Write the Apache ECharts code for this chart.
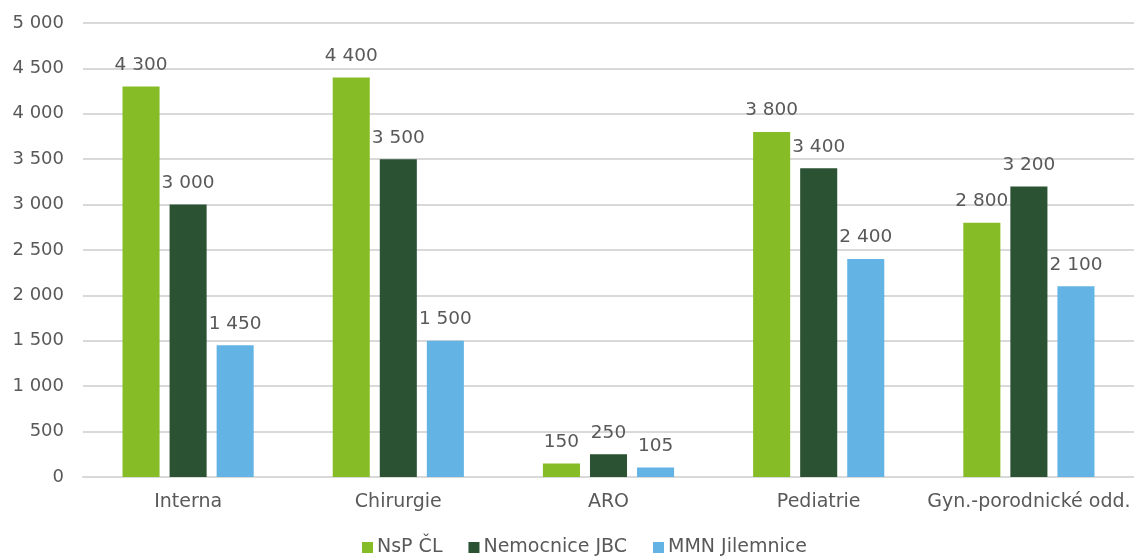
<!DOCTYPE html>
<html>
<head>
<meta charset="utf-8">
<style>
  html, body { margin: 0; padding: 0; background: #fff; }
  #chart { width: 1134px; height: 557px; }
</style>
<script src="https://cdn.jsdelivr.net/npm/echarts@6/dist/echarts.min.js"></script>
</head>
<body>
<div id="chart"></div>
<script>
// Hospital departments and values per hospital
const categories = ['Interna', 'Chirurgie', 'ARO', 'Pediatrie', 'Gyn.-porodnické odd.'];
const seriesNames = ['NsP ČL', 'Nemocnice JBC', 'MMN Jilemnice'];
const nspCL = [4300, 4400, 150, 3800, 2800];
const nemocniceJBC = [3000, 3500, 250, 3400, 3200];
const mmnJilemnice = [1450, 1500, 105, 2400, 2100];
const colors = ['#86BC25', '#2A5233', '#63B4E4'];

const FONT = '"DejaVu Sans", Verdana, sans-serif';
const TEXT = '#595959';

// Thousands separated by a space, as in Czech formatting
function fmt(v) {
  return String(v).replace(/\B(?=(\d{3})+(?!\d))/g, ' ');
}

const chart = echarts.init(document.getElementById('chart'));

function makeSeries(name, data, color) {
  return {
    name: name,
    type: 'bar',
    data: data,
    barGap: '27%',
    barCategoryGap: '37.6%',
    itemStyle: { color: color },
    label: {
      show: true,
      position: 'top',
      distance: 12,
      color: TEXT,
      fontFamily: FONT,
      fontSize: 18.5,
      formatter: p => fmt(p.value)
    }
  };
}

chart.setOption({
  animation: false,
  textStyle: { fontFamily: FONT },
  grid: { left: 83, right: 0, top: 23, bottom: 80, containLabel: false },
  legend: {
    top: 538,
    left: 362,
    padding: 0,
    itemWidth: 11,
    itemHeight: 11,
    itemGap: 26,
    icon: 'rect',
    textStyle: { color: TEXT, fontFamily: FONT, fontSize: 19, padding: [0, 0, 0, -1] },
    data: seriesNames
  },
  xAxis: {
    type: 'category',
    data: categories,
    axisLine: { lineStyle: { color: '#D9D9D9', width: 2 } },
    axisTick: { show: false },
    axisLabel: { color: TEXT, fontFamily: FONT, fontSize: 19, margin: 16, interval: 0 }
  },
  yAxis: {
    type: 'value',
    min: 0,
    max: 5000,
    interval: 500,
    axisLine: { show: false },
    axisTick: { show: false },
    splitLine: { lineStyle: { color: '#D9D9D9', width: 2 } },
    axisLabel: { color: TEXT, fontFamily: FONT, fontSize: 18, margin: 19, formatter: fmt }
  },
  series: [
    makeSeries(seriesNames[0], nspCL, colors[0]),
    makeSeries(seriesNames[1], nemocniceJBC, colors[1]),
    makeSeries(seriesNames[2], mmnJilemnice, colors[2])
  ]
});
</script>
</body>
</html>
